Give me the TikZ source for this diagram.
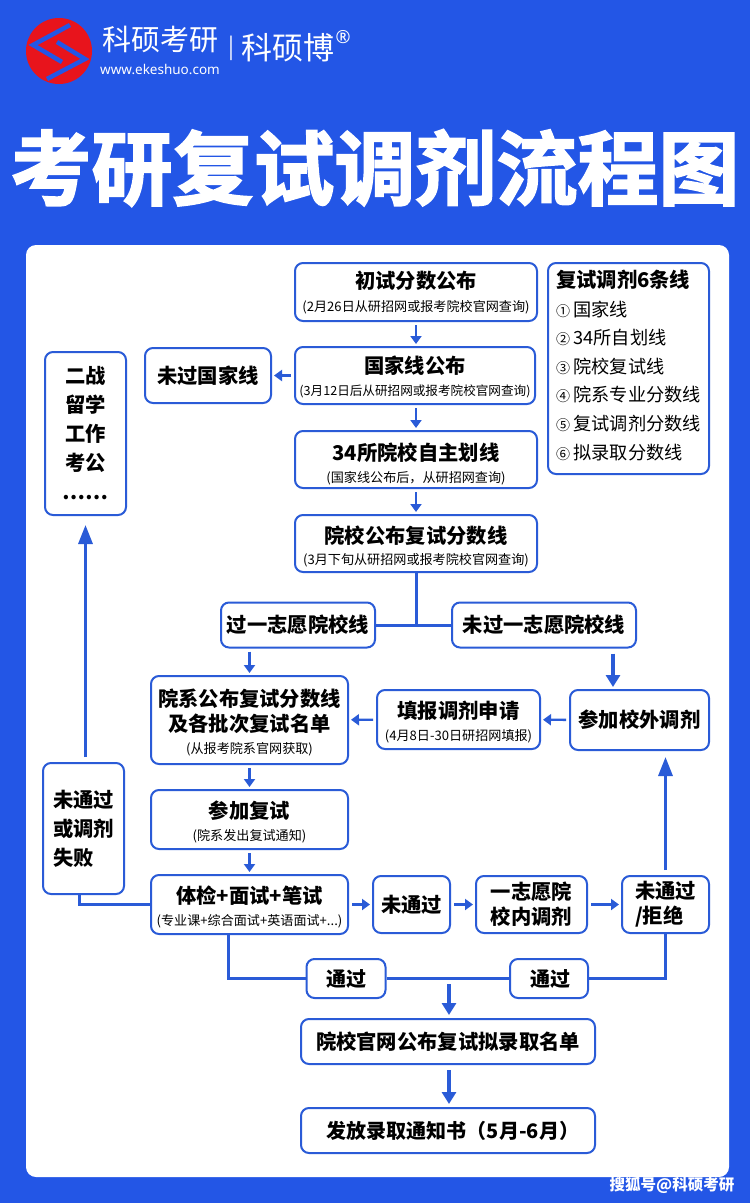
\documentclass[tikz,border=0pt]{standalone}
\usepackage{fontspec}
\setmainfont{Noto Sans CJK SC}
\newfontfamily\latinfont{Noto Sans}
\newfontfamily\heavyfont[FakeBold=2.2]{Noto Sans CJK SC Bold}
\usetikzlibrary{arrows.meta}
\definecolor{pageblue}{HTML}{2356E6}
\definecolor{lineblue}{HTML}{2A5BD7}
\definecolor{logored}{HTML}{E8141C}
\newcommand{\boxhead}[2][18]{{\fontsize{20.3}{24}\bfseries\selectfont\rule{0pt}{#1pt}#2}}
\newcommand{\boxnote}[2][13.1]{{\fontsize{#1}{15}\mdseries\selectfont #2}}
\newcommand{\lineitem}[2]{{\fontsize{14}{14}\mdseries\selectfont #1}\,{\fontsize{18.2}{18}\mdseries\selectfont #2}}
\tikzset{
	flowbox/.style={draw=lineblue,line width=2pt,rounded corners=8pt,fill=white,inner sep=0pt,align=center,text=black,font=\fontsize{20.3}{29}\bfseries\selectfont},
	flowline/.style={draw=lineblue,line width=3pt},
	smallarrow/.style={draw=lineblue,line width=2.4pt,shorten <=3pt,shorten >=2pt,-{Triangle[length=8pt,width=11pt]}},
	bigarrow/.style={draw=lineblue,line width=3.2pt,shorten <=5pt,shorten >=3pt,-{Triangle[length=12pt,width=14pt]}},
	longarrow/.style={draw=lineblue,line width=3.2pt,shorten <=5pt,shorten >=6pt,-{Triangle[length=19pt,width=14pt]}},
}
\begin{document}
\begin{tikzpicture}[x=1pt,y=-1pt]
	\fill[pageblue] (0,0) rectangle (750,1203);
	\fill[white,rounded corners=10pt] (26,245) rectangle (729,1177);

	\fill[logored] (59,51) circle (33);
	\draw[pageblue,line width=4.5pt,line join=miter] (70,25) -- (33,45) -- (62,62);
	\draw[pageblue,line width=4.5pt,line join=miter] (57,42) -- (85,59) -- (47,79);
	\node[text=white,font=\fontsize{29}{32}\selectfont] (brand) at (160,40) {科硕考研};
	\node[text=white,font=\latinfont\fontsize{13.5}{15}\selectfont] (site) at (160,69) {www.ekeshuo.com};
	\node[text=white,font=\fontsize{22}{26}\selectfont] (bar) at (231,48) {|};
	\node[text=white,font=\fontsize{31}{34}\selectfont] (brandtwo) at (288,48) {科硕博};
	\node[text=white,font=\latinfont\fontsize{18}{20}\selectfont] (reg) at (343,37) {®};
	\node[text=white,font=\heavyfont\fontsize{81}{90}\selectfont] (title) at (375,168) {考研复试调剂流程图};

	\node[flowbox,minimum width=242,minimum height=58] (chushi) at (416,292) {\boxhead[19]{初试分数公布}\\[-6.5pt]\boxnote{(2月26日从研招网或报考院校官网查询)}};
	\node[flowbox,minimum width=240,minimum height=57] (guojia) at (415,375.5) {\boxhead[20]{国家线公布}\\[-6.5pt]\boxnote[12.6]{(3月12日后从研招网或报考院校官网查询)}};
	\node[flowbox,minimum width=242,minimum height=57] (zihua) at (416,459.5) {\boxhead[27]{34所院校自主划线}\\[-7pt]\boxnote{(国家线公布后，从研招网查询)}};
	\node[flowbox,minimum width=242,minimum height=57] (yuanxiao) at (416,543.5) {\boxhead[24]{院校公布复试分数线}\\[-8pt]\boxnote{(3月下旬从研招网或报考院校官网查询)}};
	\node[flowbox,minimum width=161,minimum height=211,align=left] (sixlines) at (628.5,368.5) {\boxhead{复试调剂6条线}\\
		\lineitem{①}{国家线}\\[-0.4pt]\lineitem{②}{34所自划线}\\[-0.4pt]\lineitem{③}{院校复试线}\\[-0.4pt]\lineitem{④}{院系专业分数线}\\[-0.4pt]\lineitem{⑤}{复试调剂分数线}\\[-0.4pt]\lineitem{⑥}{拟录取分数线}\rule[-9pt]{0pt}{9pt}};
	\node[flowbox,minimum width=126,minimum height=55] (weiguo) at (208,375.5) {未过国家线};
	\node[flowbox,minimum width=81,minimum height=163] (erzhan) at (85.5,433.5) {二战\\留学\\工作\\考公\\……};
	\node[flowbox,minimum width=154,minimum height=45] (guoyi) at (298,625) {过一志愿院校线};
	\node[flowbox,minimum width=184,minimum height=45] (weiguoyi) at (544,625) {未过一志愿院校线};
	\node[flowbox,minimum width=197,minimum height=88] (yuanxi) at (249.5,720) {\boxhead[23]{院系公布复试分数线}\\[-4pt]\boxhead{及各批次复试名单}\\[-7pt]\boxnote{(从报考院系官网获取)}};
	\node[flowbox,minimum width=163,minimum height=59] (tianbao) at (458.5,719.5) {\boxhead[22]{填报调剂申请}\\[-7pt]\boxnote{(4月8日-30日研招网填报)}};
	\node[flowbox,minimum width=139,minimum height=60] (xiaowai) at (639.5,720) {参加校外调剂};
	\node[flowbox,minimum width=197,minimum height=59] (canjia) at (249.5,819.5) {\boxhead[22]{参加复试}\\[-7pt]\boxnote{(院系发出复试通知)}};
	\node[flowbox,minimum width=197,minimum height=59] (tijian) at (249.5,904.5) {\boxhead[22]{体检+面试+笔试}\\[-7pt]\boxnote{(专业课+综合面试+英语面试+...)}};
	\node[flowbox,minimum width=81,minimum height=131,align=left] (shibai) at (83.5,828.5) {未通过\\或调剂\\失败};
	\node[flowbox,minimum width=77,minimum height=57] (weitong) at (411.5,904.5) {未通过};
	\node[flowbox,minimum width=111,minimum height=57] (xiaonei) at (531.5,904.5) {一志愿院\\[-4pt]校内调剂};
	\node[flowbox,minimum width=87,minimum height=57,align=left] (jujue) at (665.5,904.5) {未通过\\[-4pt]/拒绝};
	\node[flowbox,minimum width=79,minimum height=39,font=\fontsize{20}{24}\bfseries\selectfont] (tongone) at (346,978.5) {通过};
	\node[flowbox,minimum width=78,minimum height=39,font=\fontsize{20}{24}\bfseries\selectfont] (tongtwo) at (549,978.5) {\hspace*{3pt}通过};
	\node[flowbox,minimum width=294,minimum height=45] (mingdan) at (448,1041.5) {院校官网公布复试拟录取名单};
	\node[flowbox,minimum width=294,minimum height=45,font=\fontsize{20}{24}\bfseries\selectfont] (tongzhi) at (448,1130.5) {\hspace*{10pt}发放录取通知书（5月-6月）};
	\node[text=white,font=\fontsize{15.5}{18}\bfseries\selectfont] (mark) at (672,1185) {搜狐号@科硕考研};
	\coordinate (tongmid) at (449,979);
	\coordinate (outerin) at (613,690);
	\coordinate (failfoot) at (79,894);
	\coordinate (passfoot) at (228,934);

	\draw[smallarrow] (chushi.south) -- (chushi.south |- guojia.north);
	\draw[smallarrow] (zihua.north |- guojia.south) -- (zihua.north);
	\draw[smallarrow] (zihua) -- (yuanxiao);
	\draw[smallarrow] (guojia) -- (weiguo);
	\draw[flowline] (yuanxiao.south) -- (yuanxiao.south |- guoyi.east);
	\draw[flowline] (guoyi.east) -- (weiguoyi.west);
	\draw[smallarrow] (yuanxi.north |- guoyi.south) -- (yuanxi.north);
	\draw[bigarrow] (outerin |- weiguoyi.south) -- (outerin);
	\draw[smallarrow] (xiaowai) -- (tianbao);
	\draw[smallarrow] (tianbao) -- (yuanxi);
	\draw[smallarrow] (yuanxi) -- (canjia);
	\draw[smallarrow] (canjia) -- (tijian);
	\draw[smallarrow] (tijian) -- (weitong);
	\draw[smallarrow] (weitong) -- (xiaonei);
	\draw[smallarrow] (xiaonei) -- (jujue);
	\draw[longarrow] (jujue.north) -- (jujue.north |- xiaowai.south);
	\draw[longarrow,shorten >=9pt] (erzhan.south |- shibai.north) -- (erzhan.south);
	\draw[flowline] (failfoot) |- (tijian.west);
	\draw[flowline] (passfoot) |- (tongone.west);
	\draw[flowline] (tongone.east) -- (tongtwo.west);
	\draw[flowline] (jujue.south) |- (tongtwo.east);
	\draw[bigarrow] (tongmid) -- (mingdan.north -| tongmid);
	\draw[bigarrow] (tongmid |- mingdan.south) -- (tongmid |- tongzhi.north);
\end{tikzpicture}
\end{document}
